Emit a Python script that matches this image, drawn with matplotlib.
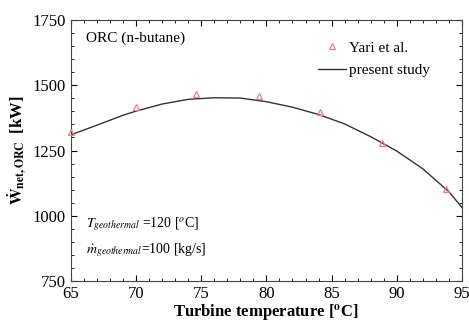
import numpy as np
import matplotlib.pyplot as plt
from matplotlib.ticker import MultipleLocator

plt.rcParams['font.family'] = ['Liberation Serif', 'DejaVu Serif']
plt.rcParams['mathtext.fontset'] = 'stix'

# Yari et al. data
t_yari = [65, 70, 74.6, 79.4, 84.1, 88.9, 93.8]
w_yari = [1321, 1417, 1467, 1457, 1398, 1279, 1102]

# present study curve
t_model = [65, 67, 69, 70, 72, 74, 76, 78, 80, 82, 84, 86, 88, 90, 92, 94, 95]
w_model = [1310, 1347, 1385, 1401, 1428, 1446, 1452, 1451, 1437, 1416, 1388, 1352, 1303, 1248, 1180, 1092, 1032]

fig = plt.figure(figsize=(4.69, 3.22), dpi=100)
ax = fig.add_axes([0.151, 0.127, 0.834, 0.811])

ax.plot(t_yari, w_yari, linestyle='none', marker='^', markersize=5,
        markerfacecolor='none', markeredgecolor='#f08080', markeredgewidth=0.9,
        label='Yari et al.', clip_on=False, zorder=3)
ax.plot(t_model, w_model, color='#333333', linewidth=1.0, label='present study')

ax.set_xlim(65, 95)
ax.set_ylim(750, 1750)
ax.xaxis.set_major_locator(MultipleLocator(5))
ax.xaxis.set_minor_locator(MultipleLocator(1))
ax.yaxis.set_major_locator(MultipleLocator(250))
ax.yaxis.set_minor_locator(MultipleLocator(50))
ax.tick_params(which='both', direction='in', top=True, right=True, labelsize=12)
ax.tick_params(which='major', length=4, width=0.8)
ax.tick_params(which='minor', length=2, width=0.6)
for s in ax.spines.values():
    s.set_linewidth(0.8)
    s.set_color('#444444')

ax.set_xlabel('Turbine temperature [$\\mathbf{^o}$C]', fontsize=12, fontweight='bold', labelpad=0)
ax.set_ylabel('$\\mathbf{\\dot{W}_{net,ORC}}$  [kW]', fontsize=12, fontweight='bold', labelpad=2)

ax.text(0.04, 0.93, 'ORC (n-butane)', transform=ax.transAxes, fontsize=11, va='center')
ax.text(0.04, 0.22, '$T_{geothermal}$ =120 [$^o$C]', transform=ax.transAxes, fontsize=10, va='center')
ax.text(0.04, 0.12, '$\\dot{m}_{geothermal}$=100 [kg/s]', transform=ax.transAxes, fontsize=10, va='center')

ax.legend(loc='upper right', bbox_to_anchor=(0.945, 0.96), frameon=False, fontsize=11,
          handlelength=1.8, handletextpad=0.2, labelspacing=0.55, borderpad=0.2)

fig.savefig('out.png', dpi=100)
